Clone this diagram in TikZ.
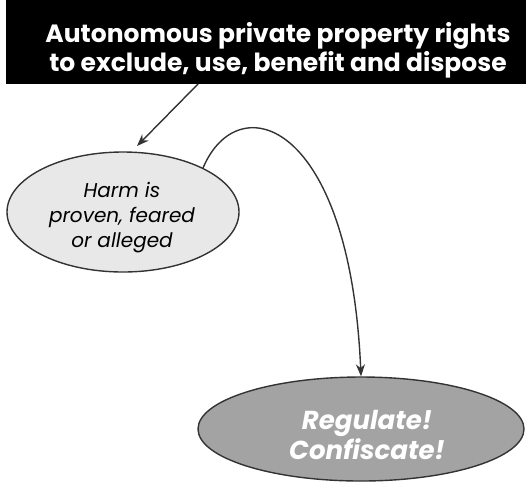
\documentclass[tikz,border=0pt]{standalone}
\usepackage{fontspec}
\setmainfont{Poppins}
\usetikzlibrary{arrows.meta,shapes.geometric}
\definecolor{lightfill}{HTML}{E8E8E8}
\definecolor{darkfill}{HTML}{A3A3A3}
\definecolor{edge}{HTML}{333333}
\tikzset{
  conn/.style={draw=edge, line width=1.4pt, -{Stealth[length=12pt,width=9pt]}},
  oval/.style={ellipse, draw=edge, line width=1.4pt, inner sep=0pt},
}
\begin{document}
\begin{tikzpicture}[x=1pt,y=-1pt]
\useasboundingbox (0,0) rectangle (526,491);
\fill[white] (0,0) rectangle (526,491);
\node[fill=black, minimum width=520pt, minimum height=84pt, anchor=north west, inner sep=0pt] (hdr) at (6,0) {};
\node[text=white, align=center, font=\bfseries\fontsize{25}{29}\selectfont] (hdrtext) at (278,50) {Autonomous private property rights\\to exclude, use, benefit and dispose};
\node[oval, fill=lightfill, minimum width=232pt, minimum height=120pt] (harm) at (123,212) {};
\node[align=center, font=\itshape\fontsize{20}{25}\selectfont] (harmtext) at (122,218) {Harm is\\proven, feared\\or alleged};
\node[oval, fill=darkfill, minimum width=326pt, minimum height=104pt] (reg) at (361,429) {};
\node[text=white, align=center, font=\bfseries\itshape\fontsize{26}{30}\selectfont] (regtext) at (367,435) {Regulate!\\Confiscate!};
\coordinate (s1) at (198,84);
\coordinate (t1) at (137,146);
\draw[conn] (s1) -- (t1);
\coordinate (c0) at (203,168);
\draw[conn] (c0) .. controls (238,85) and (350,120) .. (reg.north);
\end{tikzpicture}
\end{document}
